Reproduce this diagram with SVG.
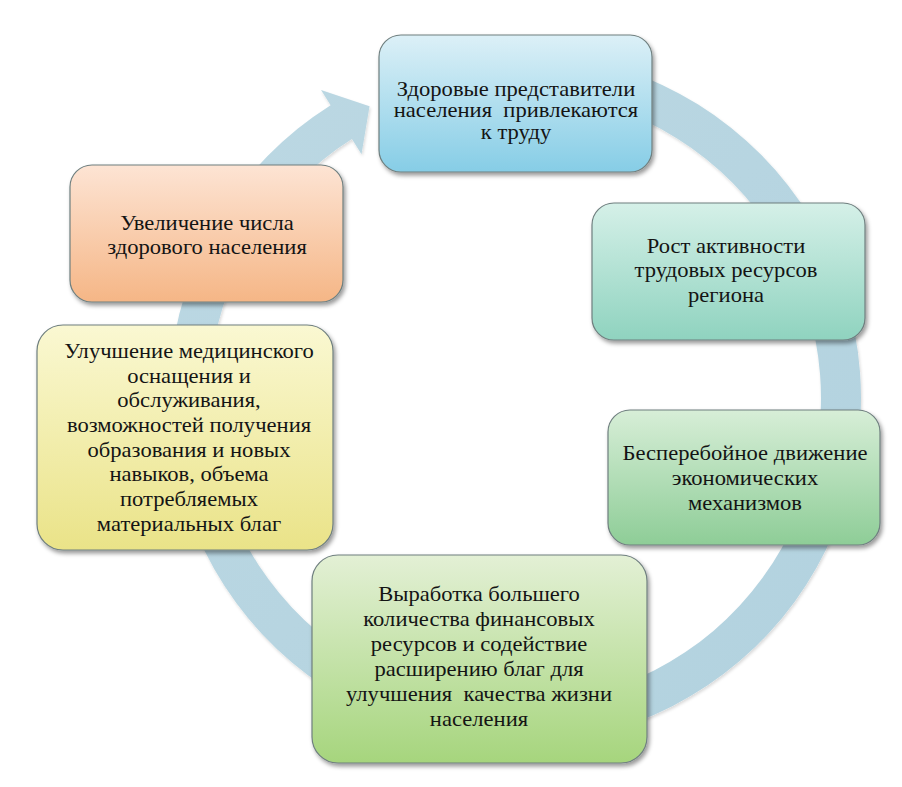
<svg xmlns="http://www.w3.org/2000/svg" width="902" height="787" viewBox="0 0 902 787">
<defs>
<linearGradient id="gBlue" x1="0" y1="0" x2="0" y2="1"><stop offset="0" stop-color="#dcf0f7"/><stop offset="1" stop-color="#86cde6"/></linearGradient>
<linearGradient id="gTeal" x1="0" y1="0" x2="0" y2="1"><stop offset="0" stop-color="#d5f0e8"/><stop offset="1" stop-color="#8fd3bf"/></linearGradient>
<linearGradient id="gGreen" x1="0" y1="0" x2="0" y2="1"><stop offset="0" stop-color="#d7eed7"/><stop offset="1" stop-color="#8ecd97"/></linearGradient>
<linearGradient id="gLime" x1="0" y1="0" x2="0" y2="1"><stop offset="0" stop-color="#e3f0d5"/><stop offset="1" stop-color="#a6d57d"/></linearGradient>
<linearGradient id="gYellow" x1="0" y1="0" x2="0" y2="1"><stop offset="0" stop-color="#faf8d2"/><stop offset="1" stop-color="#eae388"/></linearGradient>
<linearGradient id="gOrange" x1="0" y1="0" x2="0" y2="1"><stop offset="0" stop-color="#fde4d4"/><stop offset="1" stop-color="#f5b686"/></linearGradient>
<linearGradient id="gRing" x1="0" y1="0" x2="1" y2="1"><stop offset="0" stop-color="#bcd8e3"/><stop offset="1" stop-color="#b2d2df"/></linearGradient>
<filter id="shadow" x="-10%" y="-10%" width="125%" height="130%">
<feDropShadow dx="2" dy="3" stdDeviation="2" flood-color="#000" flood-opacity="0.4"/>
</filter>
<filter id="ringShadow" x="-10%" y="-10%" width="120%" height="120%">
<feDropShadow dx="1" dy="2" stdDeviation="1.5" flood-color="#000" flood-opacity="0.15"/>
</filter>
</defs>
<style>
.box{stroke:#6f7f7f;stroke-width:1.2;filter:url(#shadow)}
.t{font-family:'Liberation Serif','Liberation Sans',sans-serif;font-size:20px;fill:#141414;text-anchor:middle}
.ring{fill:url(#gRing);filter:url(#ringShadow)}
</style>
<rect width="902" height="787" fill="#ffffff"/>
<g id="connectors">
<path class="ring" d="M 545.16 53.32 A 346 346 0 1 1 330.62 105.21 L 321.02 89.98 L 369.54 106.26 L 361.52 154.29 L 351.93 139.06 A 306 306 0 1 0 541.67 93.17 Z"/>
</g>
<g id="node1">
<rect class="box" x="379" y="35" width="273" height="137" rx="22" fill="url(#gBlue)"/>
<g transform="translate(516 0) scale(1.13 1)">
<text class="t" x="0" y="96">Здоровые представители</text>
<text class="t" x="0" y="117.5" xml:space="preserve">населения  привлекаются</text>
<text class="t" x="0" y="139">к труду</text>
</g>
</g>
<g id="node2">
<rect class="box" x="592" y="203" width="273" height="137" rx="22" fill="url(#gTeal)"/>
<g transform="translate(726 0) scale(1.13 1)">
<text class="t" x="0" y="253">Рост активности</text>
<text class="t" x="0" y="277.5">трудовых ресурсов</text>
<text class="t" x="0" y="302">региона</text>
</g>
</g>
<g id="node3">
<rect class="box" x="608" y="410" width="272" height="135" rx="22" fill="url(#gGreen)"/>
<g transform="translate(745 0) scale(1.13 1)">
<text class="t" x="0" y="460">Бесперебойное движение</text>
<text class="t" x="0" y="485">экономических</text>
<text class="t" x="0" y="510">механизмов</text>
</g>
</g>
<g id="node4">
<rect class="box" x="312" y="555" width="335" height="208" rx="26" fill="url(#gLime)"/>
<g transform="translate(479 0) scale(1.13 1)">
<text class="t" x="0" y="601.5">Выработка большего</text>
<text class="t" x="0" y="626.4">количества финансовых</text>
<text class="t" x="0" y="651.3">ресурсов и содействие</text>
<text class="t" x="0" y="676.2">расширению благ для</text>
<text class="t" x="0" y="701.1" xml:space="preserve">улучшения  качества жизни</text>
<text class="t" x="0" y="726">населения</text>
</g>
</g>
<g id="node5">
<rect class="box" x="37" y="325" width="296" height="225" rx="26" fill="url(#gYellow)"/>
<g transform="translate(189 0) scale(1.13 1)">
<text class="t" x="0" y="358">Улучшение медицинского</text>
<text class="t" x="0" y="382.7">оснащения и</text>
<text class="t" x="0" y="407.4">обслуживания,</text>
<text class="t" x="0" y="432.1">возможностей получения</text>
<text class="t" x="0" y="456.8">образования и новых</text>
<text class="t" x="0" y="481.5">навыков, объема</text>
<text class="t" x="0" y="506.2">потребляемых</text>
<text class="t" x="0" y="531">материальных благ</text>
</g>
</g>
<g id="node6">
<rect class="box" x="70" y="165" width="273" height="137" rx="22" fill="url(#gOrange)"/>
<g transform="translate(207 0) scale(1.13 1)">
<text class="t" x="0" y="230">Увеличение числа</text>
<text class="t" x="0" y="254">здорового населения</text>
</g>
</g>
</svg>
